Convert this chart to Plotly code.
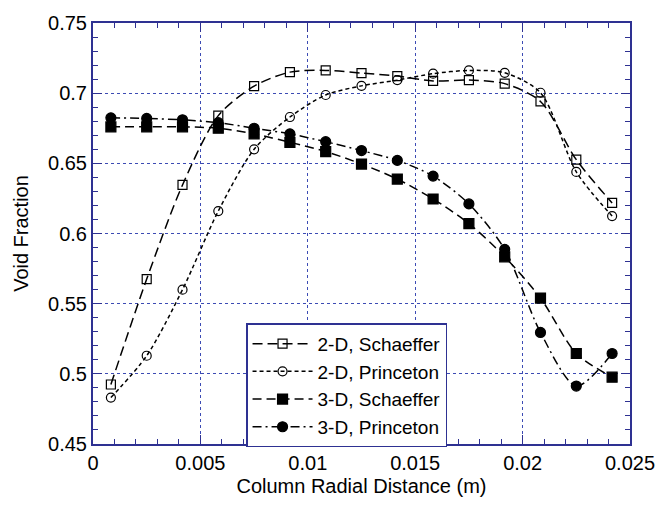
import plotly.graph_objects as go

# Radial positions (m)
x_pos = [0.000833, 0.0025, 0.004167, 0.005833, 0.0075, 0.009167, 0.010833,
         0.0125, 0.014167, 0.015833, 0.0175, 0.019167, 0.020833, 0.0225, 0.024167]

s2d_schaeffer = [0.4924, 0.5675, 0.6346, 0.684, 0.705, 0.715, 0.7162,
                 0.7143, 0.7122, 0.7087, 0.7093, 0.7068, 0.6941, 0.6526, 0.6218]
s2d_princeton = [0.4831, 0.5129, 0.560, 0.616, 0.660, 0.683, 0.6987,
                 0.7052, 0.7093, 0.7139, 0.7162, 0.7145, 0.7003, 0.6439, 0.6124]
s3d_schaeffer = [0.676, 0.676, 0.676, 0.675, 0.671, 0.665, 0.6584,
                 0.6495, 0.6388, 0.6246, 0.6071, 0.5834, 0.5540, 0.5145, 0.4976]
s3d_princeton = [0.6824, 0.682, 0.681, 0.679, 0.675, 0.671, 0.6654,
                 0.6591, 0.6521, 0.6409, 0.6211, 0.5887, 0.5295, 0.4913, 0.5145]

names = ["2-D, Schaeffer", "2-D, Princeton", "3-D, Schaeffer", "3-D, Princeton"]

frame = "#2E3192"
grid = "#3C4BB4"
font_family = "Liberation Sans, Arial"

series = [
    (s2d_schaeffer, "square-open", 9, "10px,5px"),
    (s2d_princeton, "circle-open", 9, "4px,3px"),
    (s3d_schaeffer, "square", 10, "9px,5px"),
    (s3d_princeton, "circle", 10, "9px,4px,2px,4px"),
]

fig = go.Figure()
for (vals, sym, sz, dash), nm in zip(series, names):
    fig.add_trace(go.Scatter(
        x=x_pos, y=vals, name=nm, mode="lines+markers",
        line=dict(color="black", width=1.5, dash=dash, shape="spline", smoothing=0.8),
        marker=dict(symbol=sym, size=sz, color="black",
                    line=dict(color="black", width=1.2)),
    ))

axis_common = dict(
    showline=True, linecolor=frame, linewidth=2, mirror="ticks",
    ticks="inside", ticklen=9, tickcolor=frame, tickwidth=1,
    showgrid=True, gridcolor=grid, griddash="dot", gridwidth=1,
    zeroline=False,
    tickfont=dict(family=font_family, size=20, color="black"),
)

fig.update_xaxes(
    range=[0, 0.025], dtick=0.005, tick0=0,
    minor=dict(dtick=0.001, ticks="inside", ticklen=5, tickcolor=frame, showgrid=False),
    title=dict(text="Column Radial Distance (m)",
               font=dict(family=font_family, size=20, color="black"),
               standoff=6),
    **axis_common,
)
fig.update_yaxes(
    range=[0.45, 0.75], dtick=0.05, tick0=0.45, tickformat="~g",
    minor=dict(dtick=0.01, ticks="inside", ticklen=5, tickcolor=frame, showgrid=False),
    title=dict(text="Void Fraction",
               font=dict(family=font_family, size=20, color="black"),
               standoff=14),
    **axis_common,
)

fig.update_layout(
    width=667, height=508,
    margin=dict(l=93, r=27, t=15, b=64),
    plot_bgcolor="white", paper_bgcolor="white",
    showlegend=True,
    legend=dict(
        x=0.285, y=0.2867, xanchor="left", yanchor="top",
        bgcolor="white", bordercolor=frame, borderwidth=1.5,
        font=dict(family=font_family, size=19, color="black"),
        tracegroupgap=0, itemwidth=60,
    ),
)

fig.write_html("out.html")
